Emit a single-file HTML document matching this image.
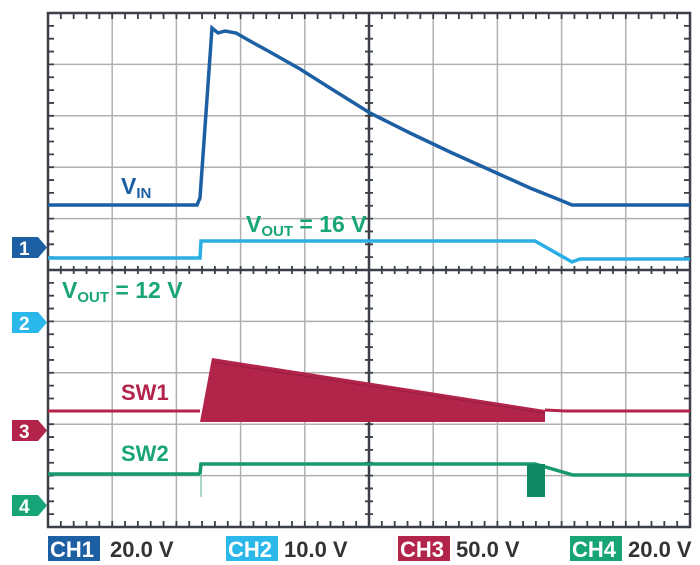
<!DOCTYPE html>
<html><head><style>
body{margin:0;background:#fff;}
svg{display:block;font-family:"Liberation Sans",Arial,sans-serif;font-weight:bold;}
</style></head><body>
<svg width="700" height="565" viewBox="0 0 700 565" xmlns="http://www.w3.org/2000/svg">
<rect width="700" height="565" fill="#fff"/>
<g stroke="#b0b0b0" stroke-width="1.5">
<line x1="112.2" y1="13" x2="112.2" y2="527"/><line x1="176.4" y1="13" x2="176.4" y2="527"/>
<line x1="240.6" y1="13" x2="240.6" y2="527"/><line x1="304.8" y1="13" x2="304.8" y2="527"/>
<line x1="433.2" y1="13" x2="433.2" y2="527"/><line x1="497.4" y1="13" x2="497.4" y2="527"/>
<line x1="561.6" y1="13" x2="561.6" y2="527"/><line x1="625.8" y1="13" x2="625.8" y2="527"/>
<line x1="48" y1="64.4" x2="690" y2="64.4"/><line x1="48" y1="115.8" x2="690" y2="115.8"/>
<line x1="48" y1="167.2" x2="690" y2="167.2"/><line x1="48" y1="218.6" x2="690" y2="218.6"/>
<line x1="48" y1="321.4" x2="690" y2="321.4"/><line x1="48" y1="372.8" x2="690" y2="372.8"/>
<line x1="48" y1="424.2" x2="690" y2="424.2"/><line x1="48" y1="475.6" x2="690" y2="475.6"/>
</g>
<g stroke="#3a3f48" stroke-width="2.5" fill="none">
<rect x="48" y="13" width="642" height="514"/>
<line x1="369" y1="13" x2="369" y2="527"/>
<line x1="48" y1="270" x2="690" y2="270"/>
</g>
<g stroke="#3a3f48" stroke-dasharray="1.8 11.04" stroke-dashoffset="0.9" fill="none">
<line x1="48" y1="16" x2="690" y2="16" stroke-width="6"/>
<line x1="48" y1="524" x2="690" y2="524" stroke-width="6"/>
<line x1="48" y1="270" x2="690" y2="270" stroke-width="8"/>
</g>
<g stroke="#3a3f48" stroke-dasharray="1.8 11.05" stroke-dashoffset="0.9" fill="none">
<line x1="51" y1="13" x2="51" y2="527" stroke-width="6"/>
<line x1="687" y1="13" x2="687" y2="527" stroke-width="6"/>
<line x1="369" y1="13" x2="369" y2="527" stroke-width="8"/>
</g>
<!-- VIN -->
<polyline fill="none" stroke="#1d5fa3" stroke-width="3.5" points="48,205 197,205 200,198 212,28 218,33 225,31 236,33 250,41 270,52 300,69 330,88 370,113 410,133 450,152 490,170 530,188 560,200 572,205 690,205"/>
<!-- VOUT -->
<polyline fill="none" stroke="#2aaee4" stroke-width="3.5" points="48,258 200,258 201,241 535,241 572,262 580,259 690,259"/>
<!-- SW1 -->
<polyline fill="none" stroke="#b3244b" stroke-width="3" points="48,411 200,411"/>
<polygon fill="#b3244b" points="200,422 212,358 545,410 545,422"/>
<polyline fill="none" stroke="#b3244b" stroke-width="3" points="545,410 565,411 690,411"/>
<line x1="212" y1="362" x2="545" y2="413" stroke="#7a1532" stroke-width="1" opacity="0.5"/>
<!-- SW2 -->
<polyline fill="none" stroke="#17986f" stroke-width="3.5" points="48,474 200,474 201,464 535,464 573,475 690,475"/>
<line x1="201" y1="474" x2="201" y2="497" stroke="#8fc9b4" stroke-width="1.5"/>
<rect x="527" y="464" width="18" height="33" fill="#0f8a62"/>
<!-- markers -->
<g font-size="19" fill="#fff">
<path d="M12,237 H38 L47,247.5 L38,258 H12 Z" fill="#1d5fa3"/><text x="19" y="255">1</text>
<path d="M12,312 H38 L47,322.5 L38,333 H12 Z" fill="#2ab8ea"/><text x="19" y="330">2</text>
<path d="M12,420 H38 L47,430.5 L38,441 H12 Z" fill="#b3244b"/><text x="19" y="438">3</text>
<path d="M12,495 H38 L47,505.5 L38,516 H12 Z" fill="#17a578"/><text x="19" y="513">4</text>
</g>
<!-- labels -->
<g font-size="23">
<text x="121" y="194" fill="#1d5fa3">V<tspan font-size="15" dy="4">IN</tspan></text>
<text x="246" y="232" fill="#17a578">V<tspan font-size="15" dy="4">OUT</tspan><tspan dy="-4"> = 16 V</tspan></text>
<text x="62" y="298" fill="#17a578">V<tspan font-size="15" dy="4">OUT</tspan><tspan dy="-4"> = 12 V</tspan></text>
<text x="121" y="400" fill="#b3244b" font-size="22">SW1</text>
<text x="121" y="461" fill="#17a578" font-size="22">SW2</text>
</g>
<!-- bottom -->
<g font-size="22">
<rect x="48" y="536" width="52" height="25" fill="#1d5fa3"/><text x="50" y="557" fill="#fff">CH1</text><text x="110" y="557" fill="#333">20.0 V</text>
<rect x="226" y="536" width="52" height="25" fill="#2ab8ea"/><text x="228" y="557" fill="#fff">CH2</text><text x="284" y="557" fill="#333">10.0 V</text>
<rect x="398" y="536" width="52" height="25" fill="#b3244b"/><text x="400" y="557" fill="#fff">CH3</text><text x="456" y="557" fill="#333">50.0 V</text>
<rect x="570" y="536" width="52" height="25" fill="#17a578"/><text x="572" y="557" fill="#fff">CH4</text><text x="628" y="557" fill="#333">20.0 V</text>
</g>
</svg>
</body></html>
